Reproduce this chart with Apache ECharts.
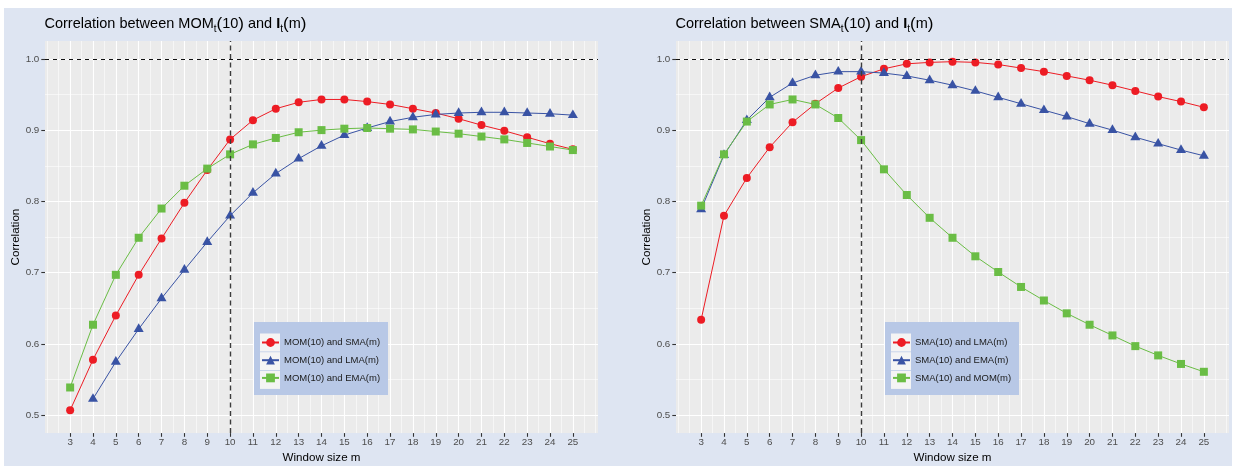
<!DOCTYPE html>
<html>
<head>
<meta charset="utf-8">
<script src="https://cdn.jsdelivr.net/npm/echarts@6/dist/echarts.min.js"></script>
<style>
  html, body { margin: 0; padding: 0; background: #ffffff; }
  #chart { width: 1236px; height: 469px; }
</style>
</head>
<body>
<div id="chart"></div>
<script>
// Window sizes m on the x axis
const windowSizes = [3, 4, 5, 6, 7, 8, 9, 10, 11, 12, 13, 14, 15, 16, 17, 18, 19, 20, 21, 22, 23, 24, 25];

// Left panel: correlation of MOM_t(10) with indicators of window m
const momSma = [0.507, 0.578, 0.640, 0.697, 0.748, 0.798, 0.844, 0.887, 0.914, 0.930, 0.939, 0.943, 0.943, 0.940, 0.936, 0.930, 0.924, 0.916, 0.907, 0.899, 0.890, 0.881, 0.873];
const momLma = [null, 0.523, 0.575, 0.621, 0.664, 0.704, 0.743, 0.780, 0.812, 0.839, 0.860, 0.878, 0.893, 0.903, 0.912, 0.918, 0.922, 0.924, 0.925, 0.925, 0.924, 0.923, 0.921];
const momEma = [0.539, 0.627, 0.697, 0.749, 0.790, 0.822, 0.846, 0.866, 0.880, 0.889, 0.897, 0.900, 0.902, 0.903, 0.902, 0.901, 0.898, 0.895, 0.891, 0.887, 0.882, 0.877, 0.872];

// Right panel: correlation of SMA_t(10) with indicators of window m
const smaLma = [0.634, 0.780, 0.833, 0.876, 0.911, 0.937, 0.959, 0.975, 0.986, 0.993, 0.995, 0.996, 0.995, 0.992, 0.987, 0.982, 0.976, 0.970, 0.963, 0.955, 0.947, 0.940, 0.932];
const smaEma = [0.789, 0.865, 0.914, 0.946, 0.966, 0.977, 0.982, 0.982, 0.980, 0.976, 0.970, 0.963, 0.955, 0.946, 0.937, 0.928, 0.919, 0.909, 0.900, 0.890, 0.881, 0.872, 0.864];
const smaMom = [0.794, 0.866, 0.912, 0.936, 0.943, 0.936, 0.917, 0.886, 0.845, 0.809, 0.777, 0.749, 0.723, 0.701, 0.680, 0.661, 0.643, 0.627, 0.612, 0.597, 0.584, 0.572, 0.561];

// Axis breaks and reference lines
const xTicks = windowSizes;
const yTicks = [0.5, 0.6, 0.7, 0.8, 0.9, 1.0];
const referenceWindow = 10;
const referenceCorrelation = 1.0;

const FONT = "'Liberation Sans', Arial, Helvetica, sans-serif";
const RED = '#ed1c24', BLUE = '#3953a4', GREEN = '#6abd45';

const X_MIN = 1.9, X_MAX = 26.1, Y_MIN = 0.475, Y_MAX = 1.025;

const panels = [
  {
    grid: { left: 45, top: 41, width: 553, height: 397 },
    titleLeft: 44.5,
    titleText: '{n|Correlation between MOM}{s|t}{p|(}{n|10}{p|)}{n| and }{b|I}{s|t}{p|(}{n|m}{p|)}',
    nameGap: 19,
    legendBox: { x: 254, y: 322, width: 134, height: 73 },
    lines: [
      { name: 'MOM(10) and SMA(m)', values: momSma, color: RED, symbol: 'circle' },
      { name: 'MOM(10) and LMA(m)', values: momLma, color: BLUE, symbol: 'triangle' },
      { name: 'MOM(10) and EMA(m)', values: momEma, color: GREEN, symbol: 'rect' }
    ]
  },
  {
    grid: { left: 676, top: 41, width: 553, height: 397 },
    titleLeft: 675.5,
    titleText: '{n|Correlation between SMA}{s|t}{p|(}{n|10}{p|)}{n| and }{b|I}{s|t}{p|(}{n|m}{p|)}',
    nameGap: 17,
    legendBox: { x: 885, y: 322, width: 134, height: 73 },
    lines: [
      { name: 'SMA(10) and LMA(m)', values: smaLma, color: RED, symbol: 'circle' },
      { name: 'SMA(10) and EMA(m)', values: smaEma, color: BLUE, symbol: 'triangle' },
      { name: 'SMA(10) and MOM(m)', values: smaMom, color: GREEN, symbol: 'rect' }
    ]
  }
];

// Panel grid lines: majors at the breaks, minors half way between
function gridLineData() {
  const out = [];
  for (let k = 4; k <= 52; k++) {
    const v = k / 2;
    const major = Number.isInteger(v) && xTicks.indexOf(v) >= 0;
    out.push({ xAxis: v, lineStyle: { color: '#ffffff', width: major ? 1.1 : 0.55, type: 'solid' } });
  }
  for (let k = 10; k <= 20; k++) {
    const v = Math.round(k * 5) / 100;
    const major = k % 2 === 0;
    out.push({ yAxis: v, lineStyle: { color: '#ffffff', width: major ? 1.1 : 0.55, type: 'solid' } });
  }
  return out;
}

const symbolSizes = { circle: 8, triangle: [10, 8.7], rect: 8 };
const symbolOffsets = { circle: [0, 0], triangle: [0, -1.4], rect: [0, 0] };

const option = {
  animation: false,
  backgroundColor: '#ffffff',
  title: [],
  grid: [],
  xAxis: [],
  yAxis: [],
  legend: [],
  series: [],
  graphic: { elements: [
    { type: 'rect', shape: { x: 4, y: 8, width: 1228, height: 458 }, style: { fill: '#dee5f2' }, z: -10, silent: true }
  ] }
};

panels.forEach((p, i) => {
  option.grid.push(Object.assign({ show: true, backgroundColor: '#ebebeb', borderWidth: 0 }, p.grid));

  option.title.push({
    text: p.titleText,
    left: p.titleLeft,
    top: 13,
    padding: 0,
    textStyle: {
      fontWeight: 'normal',
      rich: {
        n: { fontFamily: FONT, fontSize: 14.5, fontWeight: 'normal', color: '#000000', lineHeight: 22 },
        p: { fontFamily: FONT, fontSize: 17, fontWeight: 'normal', color: '#000000', lineHeight: 22 },
        b: { fontFamily: FONT, fontSize: 14.5, color: '#000000', fontWeight: 'bold', lineHeight: 22 },
        s: { fontFamily: FONT, fontSize: 10, fontWeight: 'normal', color: '#000000', lineHeight: 22, verticalAlign: 'bottom', height: 12 }
      }
    }
  });

  option.xAxis.push({
    type: 'value', gridIndex: i, min: X_MIN, max: X_MAX,
    name: 'Window size m', nameLocation: 'middle', nameGap: 14,
    nameTextStyle: { fontFamily: FONT, fontSize: 11.6, color: '#000000' },
    axisLine: { show: false },
    axisTick: { show: true, customValues: xTicks, length: 3.7, lineStyle: { color: '#333333', width: 1.1 } },
    axisLabel: { customValues: xTicks, margin: 4, fontFamily: FONT, fontSize: 9.8, color: '#4d4d4d' },
    splitLine: { show: false }
  });

  option.yAxis.push({
    type: 'value', gridIndex: i, min: Y_MIN, max: Y_MAX,
    name: 'Correlation', nameLocation: 'middle', nameGap: p.nameGap,
    nameTextStyle: { fontFamily: FONT, fontSize: 11.6, color: '#000000' },
    axisLine: { show: false },
    axisTick: { show: true, customValues: yTicks, length: 3.7, lineStyle: { color: '#333333', width: 1.1 } },
    axisLabel: { customValues: yTicks, margin: 5.7, fontFamily: FONT, fontSize: 9.8, color: '#4d4d4d',
      formatter: v => v.toFixed(1) },
    splitLine: { show: false }
  });

  p.lines.forEach((ln, j) => {
    const data = [];
    windowSizes.forEach((m, k) => { if (ln.values[k] != null) data.push([m, ln.values[k]]); });
    const s = {
      name: ln.name, type: 'line', xAxisIndex: i, yAxisIndex: i,
      data: data,
      symbol: ln.symbol, symbolSize: symbolSizes[ln.symbol], symbolOffset: symbolOffsets[ln.symbol],
      showSymbol: true,
      itemStyle: { color: ln.color },
      lineStyle: { color: ln.color, width: 1 },
      emphasis: { disabled: true },
      z: 2
    };
    if (j === 0) {
      s.markLine = {
        silent: true, symbol: ['none', 'none'], z: 1, animation: false,
        label: { show: false }, emphasis: { disabled: true },
        data: gridLineData()
      };
    } else if (j === 1) {
      s.markLine = {
        silent: true, symbol: ['none', 'none'], z: 6, animation: false,
        label: { show: false }, emphasis: { disabled: true },
        data: [
          { yAxis: referenceCorrelation, lineStyle: { color: '#111111', width: 1.1, type: [4, 4] } },
          { xAxis: referenceWindow, lineStyle: { color: '#3c3c3c', width: 1.4, type: [5, 3.5] } }
        ]
      };
    }
    option.series.push(s);
  });

  const lb = p.legendBox;
  option.legend.push({
    orient: 'vertical', left: lb.x, top: lb.y,
    data: p.lines.map(l => l.name),
    itemWidth: 17, itemHeight: 11, itemGap: 7.7, itemTextGap: 6.5,
    padding: [15.5, 7, 9, 7],
    backgroundColor: 'transparent',
    selectedMode: false,
    textStyle: { fontFamily: FONT, fontSize: 9.5, color: '#1a1a1a' },
    z: 10
  });

  option.graphic.elements.push({
    type: 'rect', shape: { x: lb.x, y: lb.y, width: lb.width, height: lb.height },
    style: { fill: '#b8c8e6' }, z: 8, silent: true
  });
  for (let k = 0; k < 3; k++) {
    option.graphic.elements.push({
      type: 'rect', shape: { x: lb.x + 6, y: lb.y + 11.5 + k * 18.7, width: 20, height: 18 },
      style: { fill: '#f4f4f4' }, z: 9, silent: true
    });
  }
});

const chart = echarts.init(document.getElementById('chart'), null, { renderer: 'canvas' });
chart.setOption(option);
</script>
</body>
</html>
